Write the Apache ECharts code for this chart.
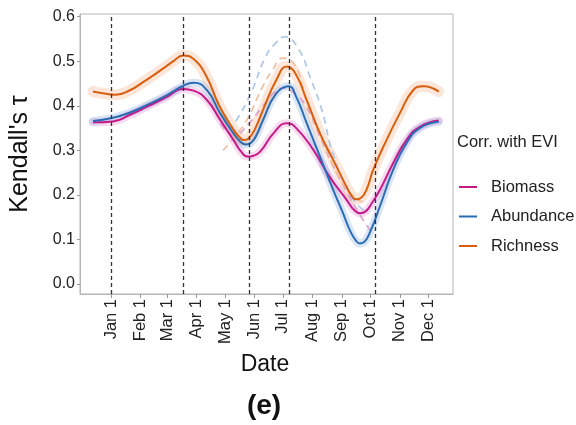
<!DOCTYPE html>
<html><head><meta charset="utf-8">
<script src="https://cdn.jsdelivr.net/npm/echarts@6/dist/echarts.min.js"></script>
<style>html,body{margin:0;padding:0;background:#fff}#c{width:576px;height:425px}</style>
</head><body><div id="c"></div>
<script>
// x values are days since Jan 1
const monthDays = [0,31,59,90,120,151,181,212,243,273,304,334];
const monthLabels = ['Jan 1','Feb 1','Mar 1','Apr 1','May 1','Jun 1','Jul 1','Aug 1','Sep 1','Oct 1','Nov 1','Dec 1'];
const yTicks = [0,0.1,0.2,0.3,0.4,0.5,0.6];
const eventDays = [0,76,146,188,278];

const biomass = [[-19,0.363],[2,0.365],[20,0.38],[38,0.398],[59,0.420],[76,0.438],[87,0.434],[101,0.413],[115,0.368],[129,0.323],[137,0.297],[144,0.286],[150,0.288],[157,0.297],[171,0.338],[185,0.361],[195,0.350],[213,0.301],[230,0.241],[248,0.189],[256,0.166],[262,0.159],[268,0.163],[275,0.183],[283,0.211],[297,0.271],[311,0.323],[325,0.353],[345,0.367]];
const abundance = [[-19,0.366],[2,0.373],[20,0.385],[38,0.402],[59,0.424],[76,0.445],[87,0.452],[101,0.435],[115,0.383],[129,0.338],[136,0.320],[142,0.313],[148,0.318],[154,0.338],[160,0.368],[174,0.428],[187,0.444],[195,0.420],[206,0.361],[220,0.286],[234,0.211],[244,0.16],[252,0.118],[258,0.097],[262,0.091],[267,0.095],[273,0.118],[283,0.174],[297,0.256],[311,0.316],[325,0.350],[345,0.364]];
const richness = [[-19,0.432],[-5,0.427],[5,0.425],[20,0.435],[35,0.455],[45,0.469],[55,0.484],[65,0.499],[76,0.513],[87,0.505],[100,0.468],[114,0.400],[129,0.346],[135,0.330],[140,0.323],[145,0.327],[152,0.350],[160,0.391],[174,0.458],[185,0.488],[194,0.473],[206,0.413],[220,0.338],[234,0.278],[248,0.218],[253,0.199],[258,0.19],[263,0.193],[269,0.212],[276,0.256],[290,0.323],[304,0.383],[318,0.435],[329,0.444],[345,0.432]];

const biomassAlt = [[115,0.36],[130,0.335],[145,0.36],[160,0.40],[172,0.43],[181,0.44],[192,0.43],[205,0.40],[220,0.33],[235,0.26],[250,0.2],[262,0.155],[273,0.12]];
const abundanceAlt = [[123,0.345],[131,0.364],[148,0.432],[162,0.507],[173,0.54],[183,0.555],[197,0.529],[210,0.462],[222,0.39],[234,0.29],[252,0.20],[266,0.165]];
const richnessAlt = [[118,0.30],[130,0.33],[143,0.368],[159,0.44],[170,0.48],[181,0.507],[194,0.49],[206,0.41],[227,0.30],[244,0.226],[259,0.19],[265,0.185]];

const names = ['Biomass','Abundance','Richness'];
const colors = ['#c51b8a','#2b6cb5','#d95f0e'];
const altColors = ['#dea2cb','#adc7ea','#f1bf9f'];
const bandColors = ['rgba(214,80,180,0.2)','rgba(70,130,210,0.2)','rgba(235,140,80,0.22)'];
const bandWidths = [8,8,11];
const mainData = [biomass, abundance, richness];
const altData = [biomassAlt, abundanceAlt, richnessAlt];

const chart = echarts.init(document.getElementById('c'));
const series = [];
mainData.forEach((d,i)=>{
  series.push({type:'line', name:names[i]+' band', data:d, smooth:0.5, showSymbol:false, silent:true,
    lineStyle:{color:bandColors[i], width:bandWidths[i], cap:'round'}, z:1});
});
altData.forEach((d,i)=>{
  series.push({type:'line', name:names[i]+' alt', data:d, smooth:0.5, showSymbol:false, silent:true,
    lineStyle:{color:altColors[i], width:1.7, type:[7,5]}, z:2});
});
mainData.forEach((d,i)=>{
  const s = {type:'line', name:names[i], data:d, smooth:0.5, showSymbol:false,
    itemStyle:{color:colors[i]}, lineStyle:{color:colors[i], width:2}, z:4};
  if(i===0){
    s.markLine = {silent:true, symbol:['none','none'], label:{show:false},
      lineStyle:{color:'#333', type:[4,3], width:1.3},
      data: eventDays.map(v=>({xAxis:v}))};
  }
  series.push(s);
});

chart.setOption({
  animation:false,
  grid:{left:80, right:123, top:14, bottom:131, show:true, borderColor:'#b5b5b5', borderWidth:1},
  xAxis:{type:'value', min:-32.6, max:360,
    axisLine:{show:true, onZero:false, lineStyle:{color:'#b5b5b5'}},
    splitLine:{show:false},
    axisTick:{show:true, length:4, lineStyle:{color:'#999'}, customValues:monthDays},
    axisLabel:{rotate:90, margin:5, fontSize:16.5, color:'#222', fontFamily:'Liberation Sans, Arial, sans-serif',
      customValues:monthDays,
      formatter:(v)=>{const k=monthDays.indexOf(Math.round(v)); return k>=0?monthLabels[k]:'';}}
  },
  yAxis:{type:'value', min:-0.02245, max:0.6061,
    axisLine:{show:true, onZero:false, lineStyle:{color:'#b5b5b5'}},
    splitLine:{show:false},
    axisTick:{show:true, length:3, lineStyle:{color:'#999'}, customValues:yTicks},
    axisLabel:{margin:5, fontSize:16, color:'#222', fontFamily:'Liberation Sans, Arial, sans-serif',
      customValues:yTicks, formatter:(v)=>v.toFixed(1)},
    name:"Kendall's τ", nameLocation:'middle', nameGap:47, nameRotate:90,
    nameTextStyle:{fontSize:25, color:'#111', fontFamily:'Liberation Sans, Arial, sans-serif'}
  },
  legend:{orient:'vertical', left:454, top:173, data:names, icon:'rect', itemWidth:18, itemHeight:2,
    itemGap:11.5, selectedMode:false,
    textStyle:{fontSize:16.5, lineHeight:18, color:'#222', padding:[0,0,0,9], fontFamily:'Liberation Sans, Arial, sans-serif'}},
  graphic:[
    {type:'text', left:457, top:134, style:{text:'Corr. with EVI', fontSize:16.5, fill:'#222', fontFamily:'Liberation Sans, Arial, sans-serif'}},
    {type:'text', x:265, y:365, style:{text:'Date', fontSize:23, fill:'#111', align:'center', verticalAlign:'middle', fontFamily:'Liberation Sans, Arial, sans-serif'}},
    {type:'text', x:264, y:406, style:{text:'(e)', fontSize:28, fontWeight:'bold', fill:'#111', align:'center', verticalAlign:'middle', fontFamily:'Liberation Sans, Arial, sans-serif'}}
  ],
  series: series
});
</script></body></html>
